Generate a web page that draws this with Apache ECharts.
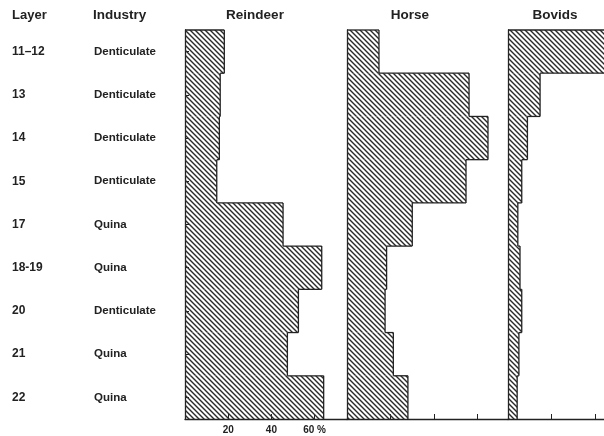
<!DOCTYPE html>
<html>
<head>
<meta charset="utf-8">
<script src="https://cdn.jsdelivr.net/npm/echarts@6/dist/echarts.min.js"></script>
<style>
  html, body { margin: 0; padding: 0; background: #fff; }
  #chart { width: 604px; height: 436px; }
</style>
</head>
<body>
<div id="chart"></div>
<script>
// layers top to bottom
const layers = ['11–12', '13', '14', '15', '17', '18-19', '20', '21', '22']
const industries = ['Denticulate', 'Denticulate', 'Denticulate', 'Denticulate', 'Quina', 'Quina', 'Denticulate', 'Quina', 'Quina']
// % of identified remains
const reindeer = [18.2, 16.3, 15.9, 14.7, 45.4, 63.3, 52.5, 47.4, 64.2]
const horse = [14.7, 56.1, 64.8, 54.7, 30.0, 18.2, 17.5, 21.3, 28.0]
const bovids = [55, 14.7, 8.9, 6.3, 4.5, 5.5, 6.3, 5.0, 4.2]
const panelNames = ['Reindeer', 'Horse', 'Bovids']
const xTicks = [[20, 40, 60], [20, 40, 60], [20, 40]]

const ink = '#222'
const fontFamily = '"Liberation Sans", Arial, Helvetica, sans-serif'

// grid placement of the three panels
const panels = [
  { left: 185, width: 162, max: 75 },
  { left: 347, width: 161, max: 74 },
  { left: 508, width: 96, max: 44 }
]

// diagonal hatching tile
const hatchCanvas = (() => {
  const c = document.createElement('canvas')
  c.width = 5
  c.height = 5
  const g = c.getContext('2d')
  g.strokeStyle = '#2a2a2a'
  g.lineWidth = 1.4
  g.beginPath()
  g.moveTo(-1, -1); g.lineTo(6, 6)
  g.moveTo(4, -1); g.lineTo(6, 1)
  g.moveTo(-1, 4); g.lineTo(1, 6)
  g.stroke()
  return c
})()
const hatch = { image: hatchCanvas, repeat: 'repeat' }

// one band per layer: hatched block + step outline
const makeRender = (values) => (params, api) => {
  const i = params.dataIndex
  const v = api.value(0)
  const end = api.coord([v, i])
  const base = api.coord([0, i])
  const h = api.size([0, 1])[1]
  const top = end[1] - h / 2
  const bot = end[1] + h / 2
  const prevX = i === 0 ? base[0] : api.coord([values[i - 1], i])[0]
  const line = { stroke: ink, lineWidth: 1.3 }
  return {
    type: 'group',
    children: [
      { type: 'rect', shape: { x: base[0], y: top, width: end[0] - base[0], height: h }, style: { fill: hatch } },
      { type: 'line', shape: { x1: end[0], y1: top, x2: end[0], y2: bot }, style: line },
      { type: 'line', shape: { x1: prevX, y1: top, x2: end[0], y2: top }, style: line }
    ]
  }
}

const chart = echarts.init(document.getElementById('chart'))

const textStyle = (size) => ({ fontSize: size, fontWeight: 'bold', fontFamily, fill: ink })

chart.setOption({
  animation: false,
  grid: panels.map(p => ({ left: p.left, width: p.width, top: 30, bottom: 17 })),
  xAxis: panels.map((p, k) => ({
    gridIndex: k,
    type: 'value',
    min: 0,
    max: p.max,
    splitLine: { show: false },
    axisLine: { show: true, lineStyle: { color: ink, width: 1.3 } },
    axisTick: { show: true, inside: true, length: 5, customValues: xTicks[k], lineStyle: { color: ink } },
    axisLabel: {
      show: k === 0,
      customValues: xTicks[k],
      margin: 6,
      fontSize: 10,
      fontWeight: 'bold',
      fontFamily,
      color: ink,
      formatter: v => (v === 60 ? '60 %' : String(v))
    }
  })),
  yAxis: panels.map((p, k) => ({
    gridIndex: k,
    type: 'category',
    data: layers,
    inverse: true,
    splitLine: { show: false },
    axisLine: { show: true, lineStyle: { color: ink, width: 1.3 } },
    axisTick: { show: k === 0, inside: true, alignWithLabel: true, length: 4, lineStyle: { color: ink } },
    axisLabel: k === 0 ? {
      show: true,
      interval: 0,
      align: 'left',
      margin: 173,
      formatter: (v, i) => `{a|${v}}{b|${industries[i]}}`,
      rich: {
        a: { width: 82, fontSize: 12, fontWeight: 'bold', fontFamily, color: ink },
        b: { fontSize: 11.5, fontWeight: 'bold', fontFamily, color: ink }
      }
    } : { show: false }
  })),
  graphic: [
    { type: 'text', x: 12, y: 15, style: { text: 'Layer', ...textStyle(13), verticalAlign: 'middle' } },
    { type: 'text', x: 93, y: 15, style: { text: 'Industry', ...textStyle(13.5), verticalAlign: 'middle' } },
    { type: 'text', x: 255, y: 15, style: { text: panelNames[0], ...textStyle(13.5), align: 'center', verticalAlign: 'middle' } },
    { type: 'text', x: 410, y: 15, style: { text: panelNames[1], ...textStyle(13.5), align: 'center', verticalAlign: 'middle' } },
    { type: 'text', x: 555, y: 15, style: { text: panelNames[2], ...textStyle(13.5), align: 'center', verticalAlign: 'middle' } }
  ],
  series: [reindeer, horse, bovids].map((vals, k) => ({
    type: 'custom',
    xAxisIndex: k,
    yAxisIndex: k,
    silent: true,
    encode: { x: 0, y: 1 },
    renderItem: makeRender(vals),
    data: vals.map((v, i) => [v, i])
  }))
})
</script>
</body>
</html>
